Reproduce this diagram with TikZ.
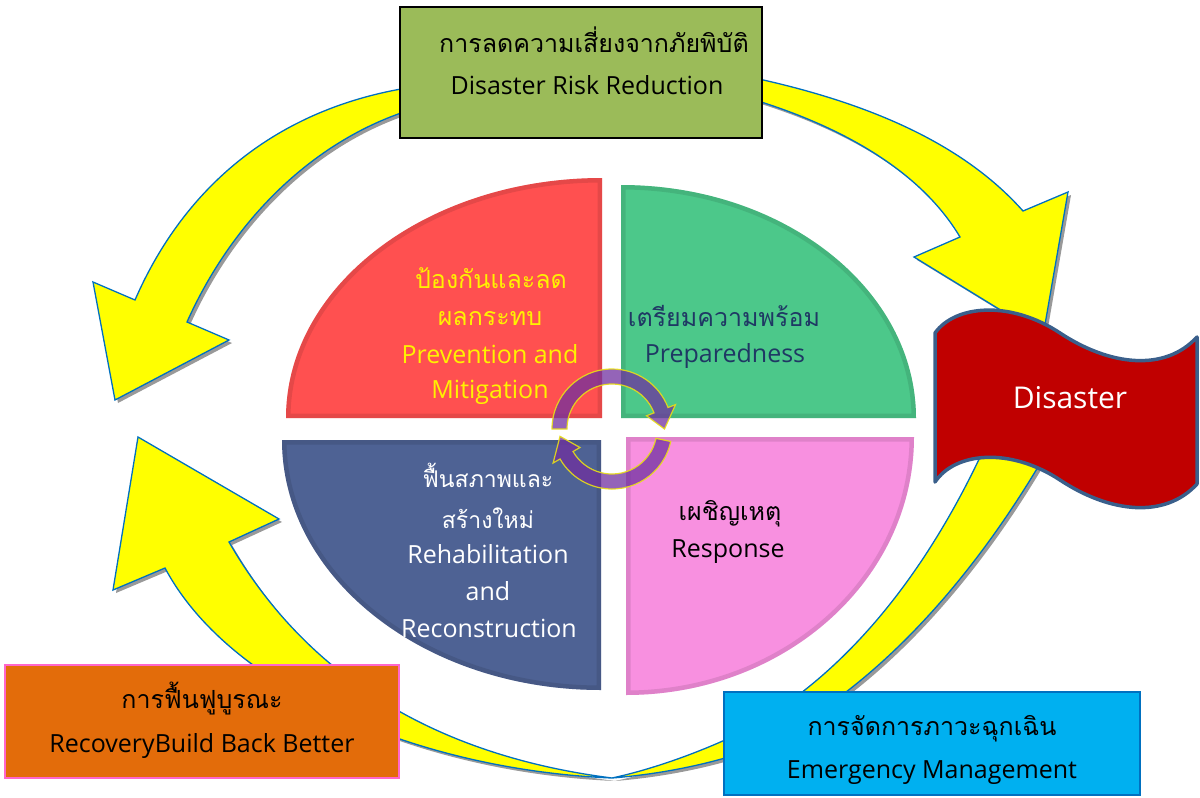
\documentclass[tikz,border=0pt]{standalone}
\usepackage{fontspec}
\setmainfont{Open Sans}
\newfontfamily\thaifont[Script=Thai]{Loma}
\usetikzlibrary{calc}
\definecolor{arrowyellow}{HTML}{FFFF00}
\definecolor{arrowblue}{HTML}{0070C0}
\definecolor{boxgreen}{HTML}{9BBB59}
\definecolor{boxorange}{HTML}{E36C0A}
\definecolor{boxpink}{HTML}{FF66CC}
\definecolor{boxcyan}{HTML}{00B0F0}
\definecolor{flagred}{HTML}{C00000}
\definecolor{flagedge}{HTML}{3A5F8B}
\definecolor{qred}{HTML}{FF5050}
\definecolor{qgreen}{HTML}{4CC88A}
\definecolor{qblue}{HTML}{4E6294}
\definecolor{qpink}{HTML}{F890E0}
\definecolor{navytext}{HTML}{1F3864}
\definecolor{purp}{HTML}{7030A0}
\begin{document}
\begin{tikzpicture}[x=1pt,y=-1pt,
  yarrow/.style={fill=arrowyellow, draw=arrowblue, line width=1.3pt, line join=miter},
  yshadow/.style={fill=black!40},
  parrow/.style={fill=purp, fill opacity=0.75, draw=yellow!90!black, draw opacity=0.9, line width=1.2pt},
  en/.style={font=\fontsize{25}{30}\selectfont, inner sep=0pt, anchor=base},
  th/.style={font=\fontsize{25}{30}\thaifont, inner sep=0pt, anchor=base},
  thsmall/.style={font=\fontsize{23}{28}\thaifont, inner sep=0pt, anchor=base},
  bevel/.style={line width=9pt, opacity=0.2}
]
\useasboundingbox (0,0) rectangle (1200,798);

% ---------- big yellow cycle arrows ----------
\def\pathUL{(420,86) .. controls (280,105) and (185,185) .. (135,300) -- (93,282) -- (115,400) -- (229,340) -- (187,322) .. controls (235,215) and (320,135) .. (420,107) -- cycle}
\def\pathUR{(745,76) .. controls (860,100) and (960,140) .. (1023,211) -- (1068,192) -- (1043,336) -- (914,257) -- (960,237) .. controls (920,170) and (840,125) .. (745,97) -- cycle}
\def\pathLR{(988,440) .. controls (920,590) and (830,690) .. (725,740) .. controls (680,760) and (640,772) .. (612,778) .. controls (650,775) and (690,768) .. (725,758) .. controls (830,725) and (950,620) .. (1048,450) -- cycle}
\def\pathLL{(612,778) .. controls (470,760) and (320,700) .. (229,542) -- (279,519) -- (138,437) -- (113,590) -- (165,568) .. controls (230,690) and (420,770) .. (612,778) -- cycle}

\begin{scope}[shift={(3,3)}]
  \fill[yshadow] \pathUL;
  \fill[yshadow] \pathUR;
  \fill[yshadow] \pathLR;
  \fill[yshadow] \pathLL;
\end{scope}
\path[yarrow] \pathUL;
\path[yarrow] \pathUR;
\path[yarrow] \pathLR;
\path[yarrow] \pathLL;

% ---------- four quadrants ----------
\def\pathRed{(602,418) -- (286,418) .. controls (286,285.4) and (427.5,178) .. (602,178) -- cycle}
\def\pathGreen{(621,418) -- (621,185) .. controls (783.9,185) and (916,289.3) .. (916,418) -- cycle}
\def\pathBlue{(601,440) -- (282,440) .. controls (282,578.1) and (424.8,690) .. (601,690) -- cycle}
\def\pathPink{(626,437) -- (914,437) .. controls (914,579.5) and (785.1,695) .. (626,695) -- cycle}

\fill[qred] \pathRed;
\begin{scope}\clip \pathRed; \draw[bevel, draw=qred!50!black] \pathRed; \end{scope}
\fill[qgreen] \pathGreen;
\begin{scope}\clip \pathGreen; \draw[bevel, draw=qgreen!50!black] \pathGreen; \end{scope}
\fill[qblue] \pathBlue;
\begin{scope}\clip \pathBlue; \draw[bevel, draw=qblue!50!black] \pathBlue; \end{scope}
\fill[qpink] \pathPink;
\begin{scope}\clip \pathPink; \draw[bevel, draw=qpink!50!black] \pathPink; \end{scope}

% ---------- purple centre arrows ----------
\coordinate (cc) at (612,429);
\path[parrow] ($(cc)+(180:60)$) arc[start angle=180, end angle=339, radius=60]
  -- ($(cc)+(339:68)$) -- ($(cc)+(360:52.5)$) -- ($(cc)+(339:37)$) -- ($(cc)+(339:45)$)
  arc[start angle=339, end angle=180, radius=45] -- cycle;
\path[parrow] ($(cc)+(12:60)$) arc[start angle=12, end angle=150, radius=60]
  -- ($(cc)+(150:68)$) -- ($(cc)+(172:52.5)$) -- ($(cc)+(150:37)$) -- ($(cc)+(150:45)$)
  arc[start angle=150, end angle=12, radius=45] -- cycle;

% ---------- boxes ----------
\node[draw=black, fill=boxgreen, line width=2pt, minimum width=362pt, minimum height=131pt, inner sep=0pt] (drr) at (581,72.5) {};
\node[draw=boxpink, fill=boxorange, line width=2pt, minimum width=394pt, minimum height=113pt, inner sep=0pt] (rec) at (202,721.5) {};
\node[draw=arrowblue, fill=boxcyan, line width=1.5pt, minimum width=416pt, minimum height=103pt, inner sep=0pt] (emg) at (932,743.5) {};

% ---------- disaster flag ----------
\path[fill=flagred, draw=flagedge, line width=3.5pt, line join=round]
  (935,333) .. controls (955,305) and (1010,300) .. (1060,333)
  .. controls (1110,366) and (1165,372) .. (1197,337) -- (1197,484)
  .. controls (1165,519) and (1110,513) .. (1060,480)
  .. controls (1010,447) and (955,452) .. (935,482) -- cycle;
\node[font=\fontsize{30}{35}\selectfont, text=white, inner sep=0pt, anchor=base] (dis) at (1070,408) {Disaster};

% ---------- texts ----------
\node[th] (drrth) at (594,52) {การลดความเสี่ยงจากภัยพิบัติ};
\node[en] (drren) at (587,94) {Disaster Risk Reduction};

\node[th, text=yellow] (pm1) at (491,288) {ป้องกันและลด};
\node[th, text=yellow] (pm2) at (490,325) {ผลกระทบ};
\node[en, text=yellow] (pm3) at (490,363) {Prevention and};
\node[en, text=yellow] (pm4) at (490,398) {Mitigation};

\node[th, text=navytext] (pr1) at (724,326) {เตรียมความพร้อม};
\node[en, text=navytext] (pr2) at (725,362) {Preparedness};

\node[thsmall, text=white] (rh1) at (488,487) {ฟื้นสภาพและ};
\node[thsmall, text=white] (rh2) at (488,528) {สร้างใหม่};
\node[en, text=white] (rh3) at (488,563) {Rehabilitation};
\node[en, text=white] (rh4) at (488,600) {and};
\node[en, text=white] (rh5) at (489,637) {Reconstruction};

\node[th] (rs1) at (730,520) {เผชิญเหตุ};
\node[en] (rs2) at (728,557) {Response};

\node[th] (rcth) at (202,708) {การฟื้นฟูบูรณะ};
\node[en] (rcen) at (202,752) {RecoveryBuild Back Better};

\node[th] (emth) at (932,735) {การจัดการภาวะฉุกเฉิน};
\node[en] (emen) at (932,778) {Emergency Management};
\end{tikzpicture}
\end{document}
